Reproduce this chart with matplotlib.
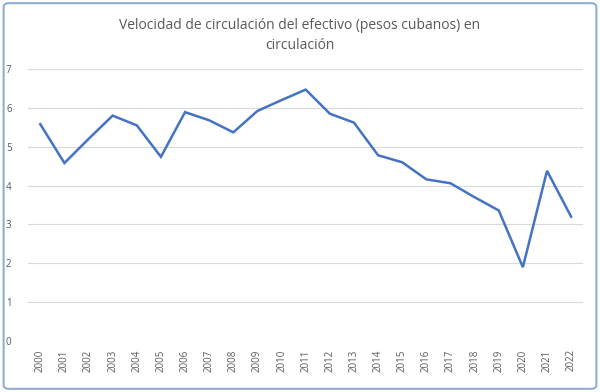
import matplotlib
matplotlib.use("Agg")
from matplotlib import pyplot as plt
from matplotlib.patches import FancyBboxPatch

years = [str(y) for y in range(2000, 2023)]
velocidad = [5.58, 4.58, 5.2, 5.8, 5.55, 4.74, 5.89, 5.68, 5.37, 5.92, 6.2, 6.47,
             5.85, 5.62, 4.78, 4.6, 4.16, 4.06, 3.7, 3.36, 1.9, 4.38, 3.2]
titulo = "Velocidad de circulación del efectivo (pesos cubanos) en\ncirculación"

plt.rcParams['font.family'] = ['Open Sans', 'DejaVu Sans']

fig = plt.figure(figsize=(6, 3.92), dpi=100)
ax = fig.add_axes([0.047, 0.130, 0.925, 0.694])

xx = list(range(len(years)))
ax.plot(xx, velocidad, color='#4472C4', linewidth=1.8, solid_joinstyle='miter')

ax.set_xlim(-0.5, len(years) - 0.5)
ax.set_ylim(0, 7)
ax.set_yticks(range(0, 8))
ax.set_xticks(xx)
ax.set_xticklabels(years, rotation=90)
ax.yaxis.grid(True, color='#D9D9D9', linewidth=0.8)
ax.set_axisbelow(True)
for s in ax.spines.values():
    s.set_visible(False)
ax.tick_params(axis='both', length=0, labelsize=7, labelcolor='#595959')
ax.tick_params(axis='y', pad=12)
ax.tick_params(axis='x', pad=6)

fig.text(0.5, 0.953, titulo, ha='center', va='top', fontsize=10, color='#595959',
         linespacing=1.45)

border = FancyBboxPatch((0.006, 0.008), 0.988, 0.984, boxstyle="round,pad=0,rounding_size=0.01",
                        transform=fig.transFigure, facecolor='none', edgecolor='#8EAED3',
                        linewidth=1.5)
fig.patches.append(border)

fig.savefig('out.png', dpi=100)
